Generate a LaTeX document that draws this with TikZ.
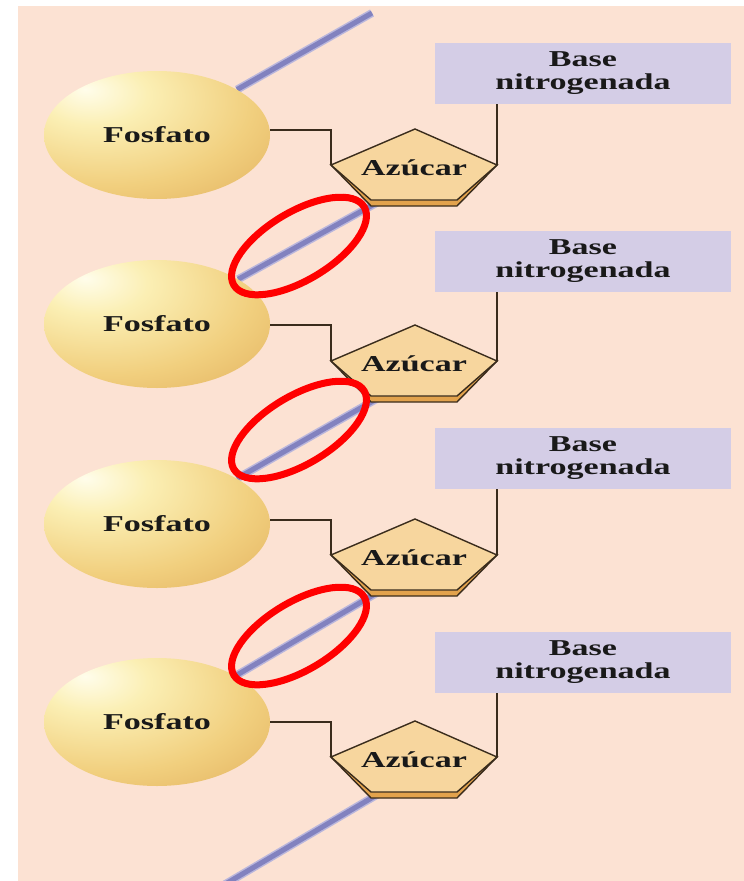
\documentclass[tikz,border=0pt]{standalone}
\usepackage{fontspec}
\setmainfont{Liberation Serif}[FakeStretch=1.5]
\usetikzlibrary{shapes.geometric}
\definecolor{bgpeach}{HTML}{FCE2D3}
\definecolor{lav}{HTML}{D4CDE6}
\definecolor{strandc}{HTML}{8282BF}
\definecolor{strandh}{HTML}{B9B6DC}
\definecolor{pentf}{HTML}{F7D69E}
\definecolor{pentb}{HTML}{E2A24C}
\definecolor{ink}{HTML}{3A2C1C}
\definecolor{sphA}{HTML}{FFFDEB}
\definecolor{sphB}{HTML}{FBEFB4}
\definecolor{sphC}{HTML}{F1CF7E}
\definecolor{sphD}{HTML}{DEA855}
\definecolor{sphE}{HTML}{C68A42}
\pgfdeclareradialshading{fosfshade}{\pgfpoint{-16bp}{18bp}}{color(0bp)=(sphA); color(12bp)=(sphB); color(32bp)=(sphC); color(54bp)=(sphD); color(70bp)=(sphE); color(100bp)=(sphE)}
\pgfdeclarelayer{strands}
\pgfdeclarelayer{paper}
\pgfsetlayers{paper,strands,main}
\begin{document}
\begin{tikzpicture}[x=1pt,y=-1pt,
  lbl/.style={font=\fontsize{22.7}{23}\selectfont\bfseries, text=black!90},
  sphere/.style={ellipse, minimum width=226pt, minimum height=128pt, inner sep=0pt, shade, shading=fosfshade, lbl},
  basebox/.style={rectangle, fill=lav, minimum width=296pt, minimum height=61pt, inner sep=0pt, align=center, lbl},
  link/.style={draw=ink, line width=1.6pt},
  pent/.style={draw=ink, line width=1.4pt, line join=miter, fill=pentf},
  pentband/.style={draw=ink, line width=1.4pt, line join=miter, fill=pentb},
  strandhalo/.style={draw=strandh, line width=8pt},
  strandcore/.style={draw=strandc, line width=5pt},
  ring/.style={draw=red, line width=7pt}
]
\useasboundingbox (0,0) rectangle (744,881);
\begin{pgfonlayer}{paper}
  \fill[white] (0,0) rectangle (744,881);
  \fill[bgpeach] (18,6) rectangle (744,881);
\end{pgfonlayer}

\foreach \i/\ey/\cy/\T/\bt/\bb in {1/135/130/129/43/104, 2/324/325/325/230/292, 3/524/520/519/428/489, 4/722/722/721/632/692} {
  \coordinate (pt\i) at (415,\T);
  \coordinate (pl\i) at (331,\T+36);
  \coordinate (pr\i) at (497,\T+36);
  \coordinate (pbr\i) at (457,\T+71);
  \coordinate (pbl\i) at (371,\T+71);
  \coordinate (sb\i) at (380,\T+72);
  \node[sphere] (sph\i) at (157,\ey) {Fosfato};
  \node[basebox] (base\i) at (583,{(\bt+\bb)/2}) {Base\\nitrogenada};
  \draw[link] (sph\i.east |- 0,\cy) -| (pl\i);
  \draw[link] (pr\i) -- (pr\i |- base\i.south);
  \filldraw[pentband] (pl\i) -- ([yshift=-6pt]pbl\i) -- ([yshift=-6pt]pbr\i) -- (pr\i) -- cycle;
  \filldraw[pent] (pt\i) -- (pr\i) -- (pbr\i) -- (pbl\i) -- (pl\i) -- cycle;
  \node[lbl] (az\i) at (414,\T+39) {Azúcar};
}

\begin{pgfonlayer}{strands}
  \coordinate (topend) at (372,13);
  \coordinate (botend) at (222,886);
  \foreach \a/\b in {sph1/topend, sb1/sph2, sb2/sph3, sb3/sph4, sb4/botend} {
    \draw[strandhalo] (\a) -- (\b);
    \draw[strandcore] (\a) -- (\b);
  }
\end{pgfonlayer}

\foreach \c in {246,430,636}
  \draw[ring, rotate around={31:(299,\c)}] (299,\c) ellipse [x radius=76, y radius=34];
\end{tikzpicture}
\end{document}
